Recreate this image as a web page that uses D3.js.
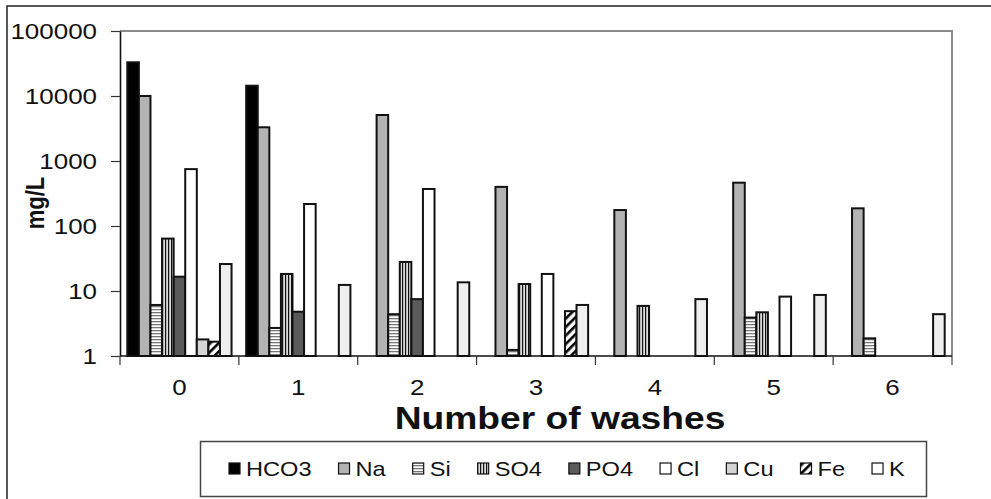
<!DOCTYPE html>
<html lang="en">
<head>
    <meta charset="UTF-8">
    <title>Number of washes</title>
    <script src="https://d3js.org/d3.v7.min.js"></script>
    <style>
        body {
            margin: 0;
            background: #fff;
            font-family: Arial, "Liberation Sans", sans-serif;
        }
        svg {
            display: block;
        }
    </style>
</head>
<body>
    <svg id="chart" width="991" height="499"></svg>

    <script>
        // Data (mg/L, null = no bar)
        const washes = ["0", "1", "2", "3", "4", "5", "6"];
        const series = ["HCO3", "Na", "Si", "SO4", "PO4", "Cl", "Cu", "Fe", "K"];
        const hco3 = [33000, 14400, null, null, null, null, null];
        const na = [10000, 3300, 5100, 400, 176, 464, 187];
        const si = [6.1, 2.7, 4.4, 1.24, null, 3.9, 1.87];
        const so4 = [64, 18.3, 28, 12.8, 5.9, 4.7, null];
        const po4 = [16.6, 4.8, 7.5, null, null, null, null];
        const cl = [750, 218, 371, 18.3, null, 8.2, null];
        const cu = [1.8, null, null, null, null, null, null];
        const fe = [1.66, null, null, 4.9, null, null, null];
        const k = [26, 12.4, 13.6, 6.1, 7.5, 8.7, 4.4];
        const yTicks = [1, 10, 100, 1000, 10000, 100000];

        const seriesValues = [hco3, na, si, so4, po4, cl, cu, fe, k];
        const fills = ["#000", "#b3b3b3", "url(#pSi)", "url(#pSO4)", "#5a5a5a", "#fff", "#d4d4d4", "url(#pFe)", "#efefef"];
        const legendFills = ["#000", "#b3b3b3", "url(#pSi)", "url(#pSO4)", "#5a5a5a", "#fff", "#d4d4d4", "url(#pFe)", "#fff"];

        const plot = {left: 120, right: 952, top: 31, bottom: 356};
        const stretch = 1.18; // text in the picture is a little wide

        const svg = d3.select("#chart");

        // patterns
        const defs = svg.append("defs");
        const pSi = defs.append("pattern").attr("id", "pSi")
            .attr("patternUnits", "userSpaceOnUse").attr("width", 6).attr("height", 3);
        pSi.append("rect").attr("width", 6).attr("height", 3).attr("fill", "#fff");
        pSi.append("rect").attr("y", 0).attr("width", 6).attr("height", 1.3).attr("fill", "#777");

        const pSO4 = defs.append("pattern").attr("id", "pSO4")
            .attr("patternUnits", "userSpaceOnUse").attr("width", 3).attr("height", 6);
        pSO4.append("rect").attr("width", 3).attr("height", 6).attr("fill", "#ddd");
        pSO4.append("rect").attr("x", 0).attr("width", 1.2).attr("height", 6).attr("fill", "#111");

        const pFe = defs.append("pattern").attr("id", "pFe")
            .attr("patternUnits", "userSpaceOnUse").attr("width", 6).attr("height", 6)
            .attr("patternTransform", "rotate(45)");
        pFe.append("rect").attr("width", 6).attr("height", 6).attr("fill", "#fff");
        pFe.append("rect").attr("width", 2.6).attr("height", 6).attr("fill", "#000");

        // outer frame
        svg.append("rect")
            .attr("x", 7).attr("y", 6)
            .attr("width", 1000).attr("height", 520)
            .attr("fill", "#fff")
            .attr("stroke", "#222")
            .attr("stroke-width", 1.5);

        // scales
        const x0 = d3.scaleBand()
            .domain(washes)
            .range([plot.left, plot.right])
            .padding(0);

        const gap = x0.bandwidth() * 0.0615;
        const x1 = d3.scaleBand()
            .domain(series)
            .range([gap, x0.bandwidth() - gap])
            .padding(0);

        const y = d3.scaleLog()
            .domain([1, 100000])
            .range([plot.bottom, plot.top]);

        // plot area border (gray, top and right)
        svg.append("path")
            .attr("d", `M${plot.left},${plot.top}H${plot.right}V${plot.bottom + 9}`)
            .attr("fill", "none")
            .attr("stroke", "#8a8a8a")
            .attr("stroke-width", 2);

        // bars
        const rows = [];
        washes.forEach((w, i) => {
            series.forEach((s, j) => {
                const v = seriesValues[j][i];
                if (v != null) rows.push({wash: w, key: s, value: v, fill: fills[j]});
            });
        });

        svg.append("g")
            .selectAll("rect")
            .data(rows)
            .join("rect")
            .attr("x", d => x0(d.wash) + x1(d.key))
            .attr("y", d => y(d.value))
            .attr("width", x1.bandwidth())
            .attr("height", d => y(1) - y(d.value))
            .attr("fill", d => d.fill)
            .attr("stroke", "#111")
            .attr("stroke-width", 2);

        // y axis
        const yAxis = svg.append("g")
            .attr("transform", `translate(${plot.left},0)`)
            .call(d3.axisLeft(y).tickValues(yTicks).tickFormat(d3.format("d")).tickSize(9).tickSizeOuter(0));
        yAxis.select(".domain").attr("stroke", "#111").attr("stroke-width", 1.6);
        yAxis.selectAll(".tick line").attr("stroke", "#333").attr("stroke-width", 1.2);
        yAxis.selectAll(".tick text")
            .attr("x", 0)
            .attr("dy", "0.36em")
            .attr("transform", `translate(-23,0) scale(${stretch},1)`)
            .attr("font-family", "Arial, 'Liberation Sans', sans-serif")
            .attr("font-size", 22)
            .attr("fill", "#111");

        // x axis: ticks between groups
        const xAxis = svg.append("g")
            .attr("transform", `translate(0,${plot.bottom})`);
        xAxis.append("line")
            .attr("x1", plot.left).attr("x2", plot.right)
            .attr("stroke", "#111").attr("stroke-width", 1.6);
        xAxis.selectAll(".sep")
            .data(washes)
            .join("line")
            .attr("class", "sep")
            .attr("x1", d => x0(d)).attr("x2", d => x0(d))
            .attr("y1", 0).attr("y2", 9)
            .attr("stroke", "#333").attr("stroke-width", 1.2);
        xAxis.selectAll(".lab")
            .data(washes)
            .join("text")
            .attr("class", "lab")
            .attr("transform", d => `translate(${x0(d) + x0.bandwidth() / 2},39) scale(${stretch},1)`)
            .attr("text-anchor", "middle")
            .attr("font-size", 22)
            .attr("fill", "#111")
            .text(d => d);

        // axis titles
        svg.append("text")
            .attr("transform", `translate(560,429) scale(1.2,1)`)
            .attr("text-anchor", "middle")
            .attr("font-size", 31)
            .attr("font-weight", "bold")
            .attr("fill", "#111")
            .text("Number of washes");

        svg.append("text")
            .attr("transform", `translate(44,203) rotate(-90) scale(1,${stretch})`)
            .attr("text-anchor", "middle")
            .attr("font-size", 22)
            .attr("font-weight", "bold")
            .attr("fill", "#111")
            .text("mg/L");

        // legend
        const legend = svg.append("g");
        legend.append("rect")
            .attr("x", 200.5).attr("y", 441.5)
            .attr("width", 726).attr("height", 55)
            .attr("fill", "#fff")
            .attr("stroke", "#444")
            .attr("stroke-width", 1.5);

        let lx = 229;
        series.forEach((s, j) => {
            legend.append("rect")
                .attr("x", lx).attr("y", 463)
                .attr("width", 11).attr("height", 11)
                .attr("fill", legendFills[j])
                .attr("stroke", "#111")
                .attr("stroke-width", 1.2);
            const t = legend.append("text")
                .attr("transform", `translate(${lx + 17},476) scale(${stretch},1)`)
                .attr("font-size", 20)
                .attr("fill", "#111")
                .text(s);
            lx += 17 + t.node().getComputedTextLength() * stretch + 27;
        });
    </script>
</body>
</html>
